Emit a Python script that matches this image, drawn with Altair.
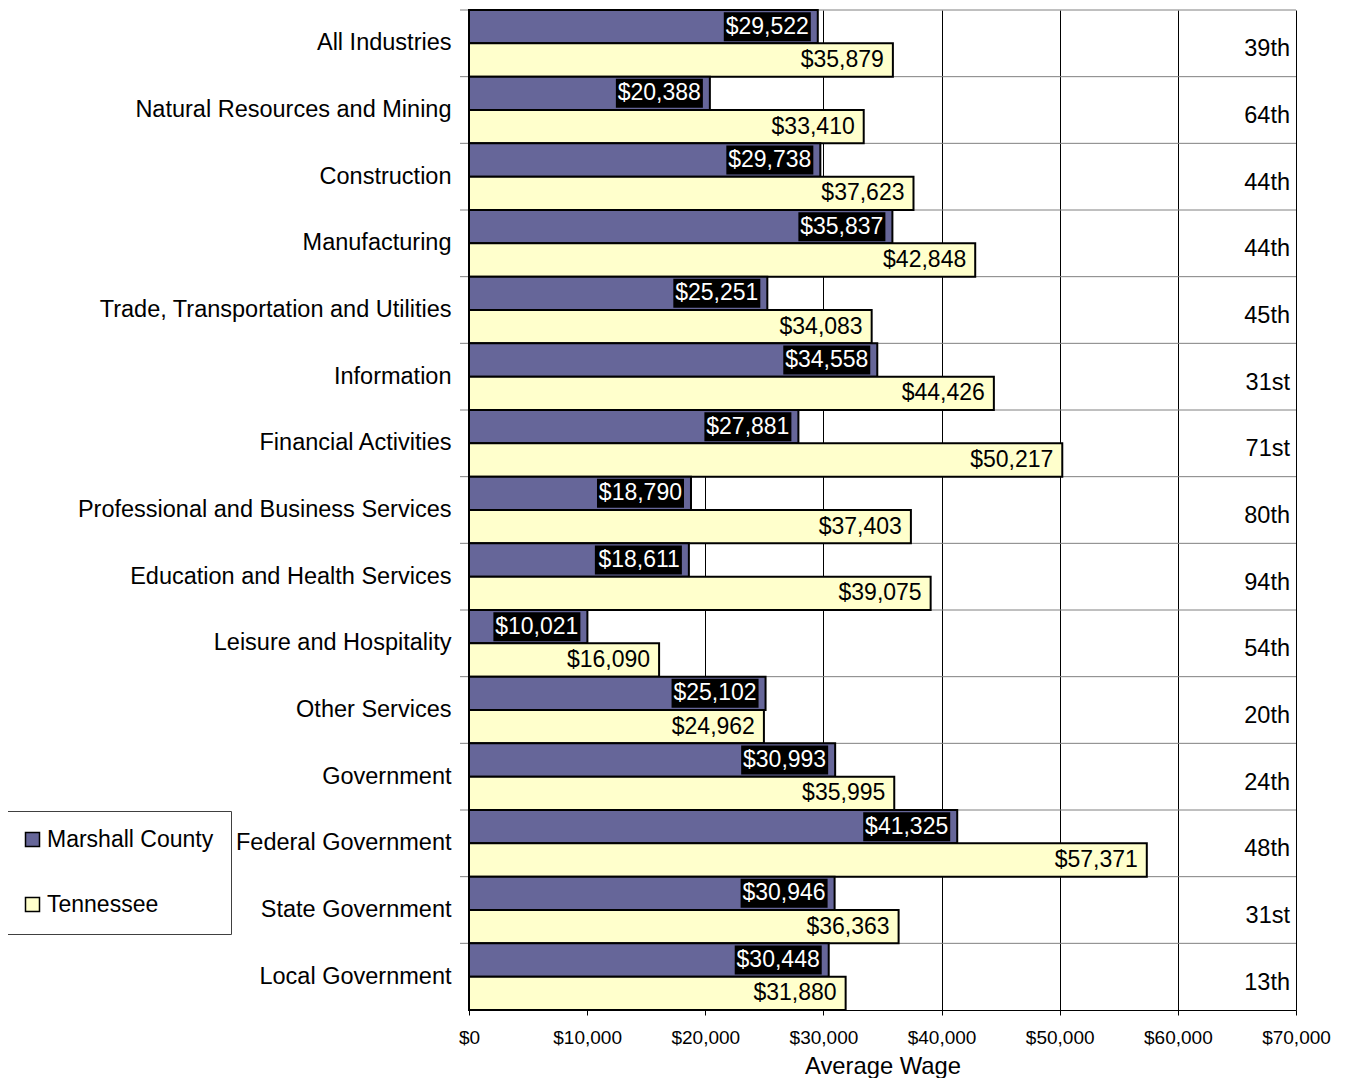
import altair as alt
import pandas as pd

categories = ["All Industries", "Natural Resources and Mining", "Construction", "Manufacturing",
              "Trade, Transportation and Utilities", "Information", "Financial Activities",
              "Professional and Business Services", "Education and Health Services",
              "Leisure and Hospitality", "Other Services", "Government", "Federal Government",
              "State Government", "Local Government"]
marshall = [29522, 20388, 29738, 35837, 25251, 34558, 27881, 18790, 18611, 10021, 25102, 30993, 41325, 30946, 30448]
tennessee = [35879, 33410, 37623, 42848, 34083, 44426, 50217, 37403, 39075, 16090, 24962, 35995, 57371, 36363, 31880]
ranks = ["39th", "64th", "44th", "44th", "45th", "31st", "71st", "80th", "94th", "54th", "20th", "24th", "48th", "31st", "13th"]
series = ["Marshall County", "Tennessee"]
colors = ["#666699", "#FFFFCC"]
x_ticks = [0, 10000, 20000, 30000, 40000, 50000, 60000, 70000]

rows = []
for c, m, t in zip(categories, marshall, tennessee):
    rows.append({"category": c, "series": series[0], "value": m, "label": f"${m:,}"})
    rows.append({"category": c, "series": series[1], "value": t, "label": f"${t:,}"})
df = pd.DataFrame(rows)
df_cat = pd.DataFrame({"category": categories, "rank": ranks})

FONT = "Liberation Sans"

x_scale = alt.Scale(domain=[0, 70000], nice=False, zero=True)
y_scale = alt.Scale(paddingInner=0, paddingOuter=0)
off_scale = alt.Scale(paddingInner=0, paddingOuter=0)

x_axis = alt.Axis(values=x_ticks, format="$,.0f", labelFontSize=19, labelColor="black",
                  tickColor="black", tickSize=5, domainColor="black", gridColor="black",
                  gridWidth=1, grid=True, title="Average Wage", titleFontSize=23.8,
                  titleFontWeight="normal", titleColor="black", titlePadding=7,
                  labelPadding=13, labelFlush=False)
y_axis = alt.Axis(title=None, ticks=False, grid=False, domain=True, domainColor="black",
                  labelFontSize=23.5, labelPadding=18, labelColor="black", labelLimit=600)


def X(**kw):
    return alt.X("value:Q", scale=x_scale, axis=x_axis, **kw)


def Y(**kw):
    return alt.Y("category:N", sort=categories, scale=y_scale, axis=y_axis, **kw)


yoff = alt.YOffset("series:N", sort=series, scale=off_scale)

grid_rules = alt.Chart(df_cat).mark_rule(color="#808080", strokeWidth=1, xOffset=-9).encode(
    y=Y(bandPosition=0),
    x=alt.datum(0, scale=x_scale, axis=x_axis),
    x2=alt.datum(70000),
)

bars = alt.Chart(df).mark_bar(stroke="black", strokeWidth=2).encode(
    x=X(),
    y=Y(),
    yOffset=yoff,
    color=alt.Color("series:N", sort=series, scale=alt.Scale(domain=series, range=colors),
                    legend=alt.Legend(title=None, orient="none", legendX=-465, legendY=801,
                                      direction="vertical", symbolType="square",
                                      symbolSize=196, symbolStrokeColor="black",
                                      symbolStrokeWidth=1.5, labelFontSize=23,
                                      labelOffset=3, rowPadding=41, padding=17,
                                      strokeColor="#404040", fillColor="white",
                                      labelColor="black", labelLimit=400, symbolOpacity=1)),
)

m_df = df[df["series"] == series[0]]
t_df = df[df["series"] == series[1]]

boxes = alt.Chart(m_df).mark_bar(color="black", height=29, xOffset=-94, x2Offset=-7).encode(
    x=X(),
    x2=alt.X2("value:Q"),
    y=Y(),
    yOffset=yoff,
)

m_text = alt.Chart(m_df).mark_text(align="right", baseline="middle", dx=-9, color="white",
                                    fontSize=23, font=FONT).encode(
    x=X(), y=Y(), yOffset=yoff, text="label:N")

t_text = alt.Chart(t_df).mark_text(align="right", baseline="middle", dx=-9, color="black",
                                    fontSize=23, font=FONT).encode(
    x=X(), y=Y(), yOffset=yoff, text="label:N")

rank_text = alt.Chart(df_cat).mark_text(align="right", baseline="middle", dx=-6, dy=6,
                                         color="black", fontSize=23.5, font=FONT).encode(
    x=alt.datum(70000, scale=x_scale, axis=x_axis), y=Y(), text="rank:N")

chart = alt.layer(grid_rules, bars, boxes, m_text, t_text, rank_text).properties(
    width=827, height=1000,
    padding={"left": 461, "top": 2, "right": 42, "bottom": 68},
    autosize=alt.AutoSizeParams(type="none"),
).configure(font=FONT).configure_view(strokeWidth=0)

chart.save("out.html", embed_options={"renderer": "svg", "actions": False})
